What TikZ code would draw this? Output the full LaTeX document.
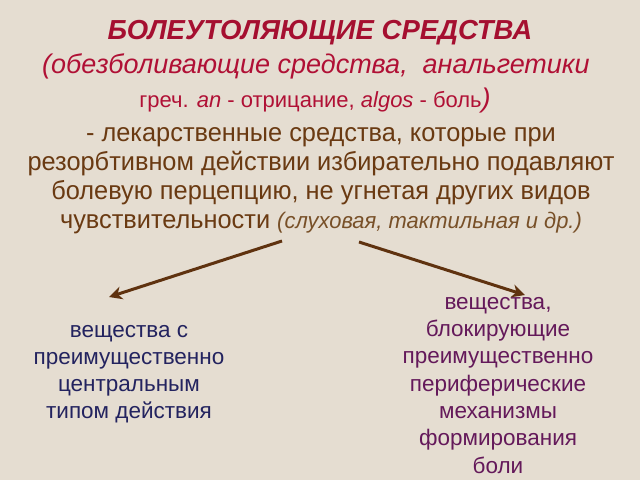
\documentclass[tikz,border=0pt]{standalone}
\usepackage{fontspec}
\setmainfont{Liberation Sans}
\newfontfamily\bodyfont[FakeStretch=0.975]{Liberation Sans}
\usetikzlibrary{arrows.meta}
\definecolor{bgbeige}{RGB}{229,221,209}
\definecolor{titlered}{RGB}{165,15,48}
\definecolor{subred}{RGB}{176,16,53}
\definecolor{bodybrown}{RGB}{106,58,18}
\definecolor{notebrown}{RGB}{120,80,40}
\definecolor{arrowbrown}{RGB}{95,50,15}
\definecolor{leftnavy}{RGB}{35,35,95}
\definecolor{rightpurple}{RGB}{100,25,90}
\tikzset{
  txt/.style={inner sep=0pt, outer sep=0pt, anchor=base, align=center},
  arr/.style={draw=arrowbrown, line width=3pt, -{Stealth[length=13pt,width=13pt,inset=4pt]}}
}
\begin{document}
\begin{tikzpicture}[x=1pt,y=-1pt]
\fill[bgbeige] (0,0) rectangle (640,480);
\useasboundingbox (0,0) rectangle (640,480);
\node[txt, text=titlered, font=\fontsize{27.5}{30}\selectfont\bfseries\itshape] (title) at (320,39) {БОЛЕУТОЛЯЮЩИЕ СРЕДСТВА};
\node[txt, text=subred, font=\fontsize{27}{30}\selectfont\itshape] (sub) at (316,73) {(обезболивающие средства,\ \ анальгетики};
\node[txt, text=subred, font=\fontsize{22}{26}\selectfont] (greek) at (315,107) {греч. \textit{an} - отрицание, \textit{algos} - боль{\fontsize{27}{30}\selectfont\itshape)}};
\node[txt, text=bodybrown, font=\fontsize{26}{29}\bodyfont] (def) at (321,228) {- лекарственные средства, которые при\\резорбтивном действии избирательно подавляют\\болевую перцепцию, не угнетая других видов\\чувствительности {\color{notebrown}\fontsize{22.5}{29}\selectfont\itshape(слуховая, тактильная и др.)}};
\node[txt, text=leftnavy, font=\fontsize{22.5}{26.7}\selectfont] (left) at (129,418) {вещества с\\преимущественно\\центральным\\типом действия};
\node[txt, text=rightpurple, font=\fontsize{22.5}{27.3}\selectfont] (right) at (498,473) {вещества,\\блокирующие\\преимущественно\\периферические\\механизмы\\формирования\\боли};
\coordinate (ls) at (282,241);
\coordinate (le) at (109,297);
\coordinate (rs) at (359,242);
\coordinate (re) at (525,295);
\draw[arr] (ls) -- (le);
\draw[arr] (rs) -- (re);
\end{tikzpicture}
\end{document}
